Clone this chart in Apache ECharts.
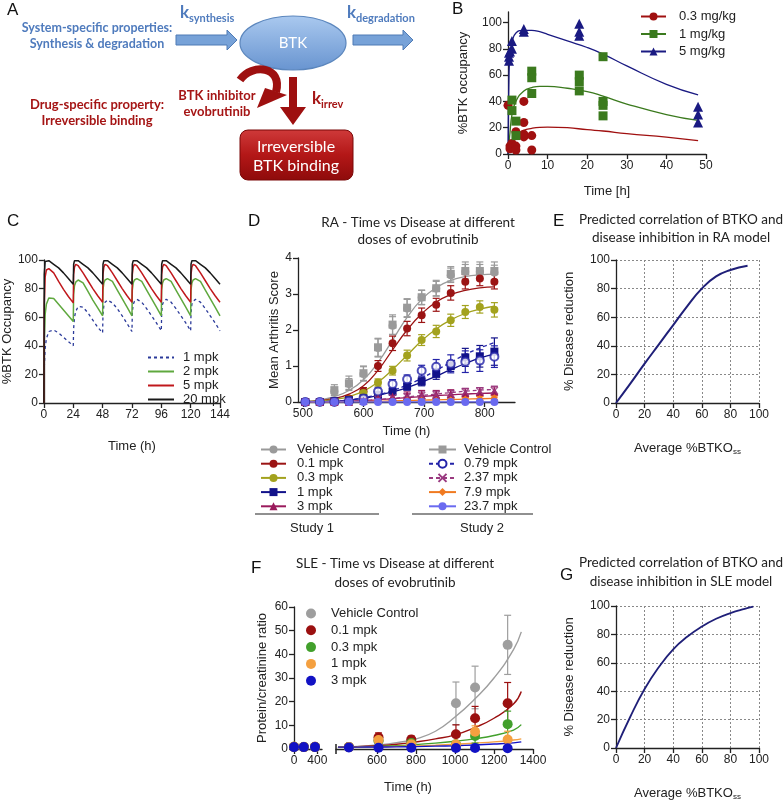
<!DOCTYPE html>
<html><head><meta charset="utf-8">
<script src="https://cdn.jsdelivr.net/npm/echarts@6/dist/echarts.min.js"></script>
<style>html,body{margin:0;padding:0;background:#fff}#c{width:784px;height:802px}</style>
</head><body><div id="c"></div>
<script>
// ---------------- Panel B data ----------------
const bFitTime = [0,0.25,0.5,1,2,4,6,8,10,15,20,24,30,40,48];
const bFit03 = [0,2,4,8,14,18,19.5,20.3,20.5,20,18.5,17.5,15.5,12.8,10.2];
const bFit1  = [0,8,16,30,40,48,50.5,51.5,51.5,50,47.5,44,38,30,25.5];
const bFit5  = [0,60,75,85,92,94,94,93,91,86,81,76,67,53,45];
const bPts03 = [[0,37],[0.5,6],[0.5,4],[1,8],[1,5],[2,17],[2,6],[2,3],[4,40],[4,24],[4,15],[4,13],[6,14],[6,3]];
const bPts1  = [[1,41],[1,33],[2,25],[2,14],[6,63],[6,58],[6,46],[18,60],[18,55],[18,48],[24,74],[24,40],[24,37],[24,29]];
const bPts5  = [[0.25,71],[0.25,74],[0.25,77],[0.5,78],[1,80],[1,86],[4,95],[4,93],[18,99],[18,93],[18,90],[48,36],[48,30],[48,24]];
const bXTicks = [0,10,20,30,40,50];
const bYTicks = [0,20,40,60,80,100];

// ---------------- Panel C data ----------------
const cTime = [0,0.3,1,2,4,8,12,16,20, 24,24.3,25,26,28,32,36,40,44, 48,48.3,49,50,52,56,60,64,68,
               72,72.3,73,74,76,80,84,88,92, 96,96.3,97,98,100,104,108,112,116, 120,120.3,121,122,124,128,132,136,140, 144];
const c1mpk  = [0,25,38,45,50,51,49,46,43, 40,52,60,64,67.5,67,63,58,53, 49,62,68,70.5,72,70,66,61,55.5,
                50,63,69,71,72.5,70.5,66,61,56, 50.5,63,69,71,72.5,70.5,66,61,56, 50.5,63,69,71,72.5,70.5,66,61,56, 50.5];
const c2mpk  = [0,45,62,69,73.5,73,69,65,61, 57,76,82,84.5,86,84,78,72,66.5, 61,79,84,86,87,85,79,73,67,
                61,79,84,86,87,85,79,73,67, 61,79,84,86,87,85,79,73,67, 61,79,84,86,87,85,79,73,67, 61];
const c5mpk  = [0,70,88,93,94,91,85,79.5,74.5, 70,90,95,97,96,91,85.5,80,75, 70.5,90,95,97,96,91,85.5,80,75,
                70.5,90,95,97,96,91,85.5,80,75, 70.5,90,95,97,96,91,85.5,80,75, 70.5,90,95,97,96,91,85.5,80,75, 70.5];
const c20mpk = [0,90,99,100,99.5,97,94.5,91,87, 83,97,99.5,100,99.5,97,94.5,91,87, 83,97,99.5,100,99.5,97,94.5,91,87,
                83,97,99.5,100,99.5,97,94.5,91,87, 83,97,99.5,100,99.5,97,94.5,91,87, 83,97,99.5,100,99.5,97,94.5,91,87, 83];

// ---------------- Panel D data ----------------
const dTime   = [504,528,552,576,600,624,648,672,696,720,744,768,792,816];
const dVeh1   = [0,0,0.3,0.5,0.78,1.5,2.12,2.6,2.9,3.15,3.52,3.62,3.62,3.6];
const dVeh1E  = [0,0,0.1,0.15,0.2,0.25,0.25,0.25,0.2,0.2,0.2,0.2,0.2,0.2];
const dVeh2   = [0,0,0.33,0.52,0.8,1.52,2.15,2.62,2.91,3.16,3.56,3.64,3.64,3.64];
const dVeh2E  = [0,0,0.15,0.2,0.2,0.25,0.27,0.25,0.2,0.22,0.2,0.25,0.25,0.25];
const d01     = [0,0,0.03,0.1,0.3,1.0,1.63,2.04,2.41,2.7,3.03,3.34,3.43,3.34];
const d01E    = [0,0,0.05,0.05,0.1,0.15,0.2,0.2,0.2,0.18,0.2,0.2,0.2,0.2];
const d03     = [0,0,0.02,0.07,0.25,0.54,0.87,1.29,1.72,1.96,2.27,2.5,2.64,2.56];
const d03E    = [0,0,0.03,0.05,0.1,0.1,0.12,0.15,0.15,0.17,0.17,0.18,0.17,0.2];
const d1      = [0,0,0.02,0.05,0.1,0.2,0.29,0.43,0.57,0.78,1.0,1.24,1.27,1.4];
const d1E     = [0,0,0.02,0.03,0.05,0.08,0.1,0.1,0.12,0.15,0.15,0.25,0.3,0.38];
const d3      = [0,0,0,0,0.03,0.1,0.15,0.18,0.2,0.2,0.22,0.25,0.28,0.3];
const d3E     = [0,0,0,0,0.03,0.05,0.08,0.1,0.12,0.12,0.12,0.12,0.12,0.12];
const d079    = [0,0,0,0.03,0.1,0.29,0.5,0.63,0.87,0.98,1.06,1.12,1.15,1.26];
const d079E   = [0,0,0,0.05,0.07,0.1,0.12,0.12,0.15,0.2,0.25,0.3,0.3,0.3];
const d237    = [0,0,0,0,0.02,0.08,0.12,0.15,0.18,0.2,0.22,0.28,0.3,0.32];
const d237E   = [0,0,0,0,0.03,0.05,0.07,0.08,0.1,0.1,0.1,0.1,0.1,0.12];
const d79     = [0,0,0,0,0,0.02,0.03,0.04,0.05,0.05,0.06,0.08,0.1,0.12];
const d79E    = [0,0,0,0,0,0.02,0.02,0.03,0.03,0.03,0.04,0.04,0.05,0.05];
const d237mpk = [0,0,0,0,0,0,0,0,0,0,0,0,0,0];
const dFitVeh = [0.02,0.06,0.15,0.32,0.62,1.1,1.72,2.35,2.85,3.18,3.38,3.48,3.53,3.55];
const dFit01  = [0.01,0.04,0.1,0.22,0.45,0.88,1.45,2.0,2.45,2.78,2.98,3.1,3.17,3.2];
const dFit03  = [0.01,0.03,0.07,0.15,0.3,0.55,0.9,1.3,1.7,2.03,2.28,2.46,2.58,2.66];
const dFit1   = [0,0.01,0.02,0.05,0.1,0.18,0.28,0.4,0.55,0.72,0.9,1.07,1.22,1.33];
const dFit3   = [0,0,0.01,0.02,0.04,0.06,0.09,0.12,0.15,0.18,0.2,0.22,0.24,0.25];
const dFit079 = [0,0.01,0.03,0.06,0.12,0.2,0.32,0.47,0.66,0.88,1.1,1.32,1.5,1.65];
const dFit237 = [0,0,0.01,0.02,0.04,0.07,0.1,0.14,0.18,0.22,0.26,0.3,0.33,0.35];
const dFit79  = [0,0,0,0.01,0.01,0.02,0.03,0.04,0.05,0.06,0.07,0.08,0.09,0.1];
const dFit237mpk = [0,0,0,0,0,0,0,0,0,0,0,0,0,0];
const dXTicks = [500,600,700,800];

// ---------------- Panel E / G data ----------------
const eX = [0,10,20,30,40,50,60,70,80,92];
const eY = [0,13.5,27.5,41,54.5,68,80,88.5,93,96];
const gX = [0,10,20,30,40,50,60,70,80,90,96];
const gY = [0,22,41.5,57,69.5,78.5,85.5,91,95,98,99.5];

// ---------------- Panel F data ----------------
const fT1 = [0,168,360];
const fT2 = [456,608,776,1005,1103,1270];
const fVeh1 = [1.0,0.9,0.9],  fVeh2 = [0.8,3.5,3.5,19.3,26,44],   fVehE = [0.3,1.5,1.5,9,9,12.5];
const f011  = [0.9,0.8,0.9],  f012  = [0.8,5.0,4.0,6.2,13,19.3],  f01E  = [0.3,1.8,1.5,4,5,8.8];
const f031  = [0.9,0.8,0.8],  f032  = [0.8,3.5,2.5,2.0,5.5,10.5], f03E  = [0.3,1,1,1,3,5.5];
const f11   = [0.9,0.8,0.8],  f12   = [0.8,3.8,2.0,2.0,7.3,4.0],  f1E   = [0.3,1,1,1,2.5,3.5];
const f31   = [0.8,0.8,0.8],  f32   = [0.6,0.5,0.5,0.4,0.4,0.3],  f3E   = [0.2,0.2,0.2,0.2,0.2,0.2];
const fFitT = [400,500,600,700,800,900,1000,1100,1200,1300,1340];
const fFitVeh = [0.8,1.1,1.7,2.7,4.3,7.5,13.5,21,30,42,49.5];
const fFit01  = [0.8,1.0,1.4,2.0,3.0,4.3,6,9,13,19,24.3];
const fFit03  = [0.8,0.9,1.1,1.4,1.9,2.5,3.3,4.3,5.7,8,10.3];
const fFit1   = [0.8,0.85,0.95,1.1,1.3,1.6,2.0,2.5,3.0,3.8,4.3];
const fFit3   = [0.8,0.8,0.85,0.9,1.0,1.2,1.4,1.7,2.1,2.6,3.0];
const fX1Ticks = [0,400];
const fX2Ticks = [600,800,1000,1200,1400];

// ---------------- helpers ----------------
const FONT = "'Liberation Sans', Arial, sans-serif";
const TFONT = "Lato, 'Open Sans', sans-serif";
const INK = '#222';
const zip = (xs, ys) => xs.map((x, i) => [x, ys[i]]);
const zip3 = (xs, ys, es) => xs.map((x, i) => [x, ys[i], es[i]]);

function axis(grid, min, max, opt) {
  opt = opt || {};
  const a = {
    type: 'value', gridIndex: grid, min: min, max: max,
    axisLine: {show: true, onZero: false, lineStyle: {color: INK, width: 1.3}},
    axisTick: {show: true, length: 5, lineStyle: {color: INK, width: 1.3}},
    axisLabel: {color: INK, fontSize: 12, fontFamily: FONT, margin: 6, formatter: v => String(v)},
    splitLine: {show: false},
    nameLocation: 'middle',
    nameTextStyle: {color: INK, fontSize: 13, fontFamily: FONT}
  };
  if (opt.interval) a.interval = opt.interval;
  if (opt.ticks) { a.axisLabel.customValues = opt.ticks; a.axisTick.customValues = opt.ticks; }
  if (opt.name) { a.name = opt.name; a.nameGap = opt.gap; }
  if (opt.rich) a.nameTextStyle.rich = opt.rich;
  if (opt.grid) a.splitLine = {show: true, lineStyle: {type: [2, 2], color: '#888', width: 1}};
  if (opt.hide) a.show = false;
  return a;
}
function fitLine(name, ai, data, color, symbol, dashed, extra) {
  return Object.assign({
    type: 'line', name: name, xAxisIndex: ai, yAxisIndex: ai, data: data, smooth: true,
    showSymbol: false, symbol: symbol, symbolSize: 7, silent: true,
    lineStyle: {color: color, width: 1.3, type: dashed ? [4, 3] : 'solid'},
    itemStyle: {color: color}, z: 2
  }, extra || {});
}
function pts(name, ai, data, color, symbol, size, extra) {
  return Object.assign({
    type: 'scatter', name: name, xAxisIndex: ai, yAxisIndex: ai, data: data,
    symbol: symbol, symbolSize: size, silent: true, itemStyle: {color: color, opacity: 1}, z: 4
  }, extra || {});
}
function errRender(params, api) {
  const x = api.value(0), y = api.value(1), e = api.value(2);
  if (!e) return null;
  const lo = api.coord([x, Math.max(0, y - e)]);
  const hi = api.coord([x, y + e]);
  const w = 3.5;
  const st = {stroke: api.visual('color'), lineWidth: 1.2, fill: null};
  return {type: 'group', children: [
    {type: 'line', shape: {x1: hi[0], y1: hi[1], x2: lo[0], y2: lo[1]}, style: st},
    {type: 'line', shape: {x1: hi[0] - w, y1: hi[1], x2: hi[0] + w, y2: hi[1]}, style: st},
    {type: 'line', shape: {x1: lo[0] - w, y1: lo[1], x2: lo[0] + w, y2: lo[1]}, style: st}
  ]};
}
function errs(ai, data, color) {
  return {type: 'custom', xAxisIndex: ai, yAxisIndex: ai, data: data, renderItem: errRender,
    itemStyle: {color: color}, silent: true, z: 3, encode: {x: 0, y: 1}};
}
function txt(x, y, s, size, color, opt) {
  opt = opt || {};
  return {type: 'text', x: x, y: y, silent: true, z: 10, style: {
    text: s, fontSize: size, fontFamily: opt.font || FONT, fontWeight: opt.weight || 'normal',
    fill: color, align: opt.align || 'left', verticalAlign: 'middle', lineHeight: opt.lh
  }};
}

// colors
const B_RED = '#a01010', B_GRN = '#3b7a1e', B_BLU = '#1a1a82';
const C_BLU = '#2b3a9a', C_GRN = '#5fa83e', C_RED = '#c0181c', C_BLK = '#1a1a1a';
const D_GRY = '#9a9a9a', D_RED = '#9b1414', D_OLV = '#a3a21e', D_NAV = '#12128a', D_MAG = '#9a1a5c';
const D_OC = '#2323a8', D_PUR = '#9a3a80', D_ORG = '#f07a20', D_PER = '#6a6af0';
const F_GRY = '#9e9e9e', F_RED = '#9b1010', F_GRN = '#42a02c', F_ORG = '#f4a040', F_BLU = '#1212c4';
const CURVE = '#1f1f78';
const A_BLUE = '#4f7bbd', A_RED = '#a51515';

const crossSym = 'path://M0,0L10,10M10,0L0,10';
const subRich = {a: {fontSize: 13, fontFamily: FONT, color: INK}, s: {fontSize: 8, fontFamily: FONT, color: INK, padding: [7, 0, 0, 0]}};

const option = {
  animation: false,
  backgroundColor: '#fff',
  grid: [
    {left: 508, top: 12, width: 198, height: 142},   // B
    {left: 43, top: 260, width: 177, height: 143},   // C
    {left: 298, top: 258, width: 217, height: 144},  // D
    {left: 616, top: 260, width: 143, height: 143},  // E
    {left: 294, top: 607, width: 28, height: 142},   // F1
    {left: 336, top: 607, width: 197, height: 142},  // F2
    {left: 616, top: 606, width: 143, height: 143}   // G
  ],
  xAxis: [
    axis(0, 0, 50, {ticks: bXTicks, name: 'Time [h]', gap: 31}),
    axis(1, 0, 144, {interval: 24, name: 'Time (h)', gap: 37}),
    axis(2, 492, 850, {ticks: dXTicks, name: 'Time (h)', gap: 23}),
    axis(3, 0, 100, {interval: 20, grid: true, name: '{a|Average %BTKO}{s|ss}', gap: 38, rich: subRich}),
    axis(4, 0, 480, {ticks: fX1Ticks}),
    axis(5, 390, 1400, {ticks: fX2Ticks}),
    axis(6, 0, 100, {interval: 20, grid: true, name: '{a|Average %BTKO}{s|ss}', gap: 38, rich: subRich})
  ],
  yAxis: [
    axis(0, 0, 108, {ticks: bYTicks, name: '%BTK occupancy', gap: 38}),
    axis(1, 0, 100, {interval: 20, name: '%BTK Occupancy', gap: 28}),
    axis(2, 0, 4, {interval: 1, name: 'Mean Arthritis Score', gap: 17}),
    axis(3, 0, 100, {interval: 20, grid: true, name: '% Disease reduction', gap: 40}),
    axis(4, 0, 60, {interval: 10, name: 'Protein/creatinine ratio', gap: 25}),
    axis(5, 0, 60, {interval: 10, hide: true}),
    axis(6, 0, 100, {interval: 20, grid: true, name: '% Disease reduction', gap: 40})
  ],
  legend: [
    {left: 635, top: 5, orient: 'vertical', itemWidth: 25, itemHeight: 10, itemGap: 4.5, selectedMode: false,
     data: ['0.3 mg/kg', '1 mg/kg', '5 mg/kg'],
     textStyle: {fontSize: 13, fontFamily: FONT, color: INK, lineHeight: 13, padding: [0, 0, 0, 8]}},
    {left: 142, top: 346, orient: 'vertical', itemWidth: 26, itemHeight: 10, itemGap: 1, selectedMode: false,
     itemStyle: {opacity: 0},
     data: ['1 mpk', '2 mpk', '5 mpk', '20 mpk'],
     textStyle: {fontSize: 13, fontFamily: FONT, color: INK, lineHeight: 13, padding: [0, 0, 0, 4]}},
    {left: 255, top: 438, orient: 'vertical', itemWidth: 25, itemHeight: 10, itemGap: 1.2, selectedMode: false,
     data: ['Vehicle Control', '0.1 mpk', '0.3 mpk', '1 mpk ', '3 mpk '],
     textStyle: {fontSize: 13, fontFamily: FONT, color: INK, lineHeight: 13, padding: [0, 0, 0, 6]}},
    {left: 423, top: 438, orient: 'vertical', itemWidth: 27, itemHeight: 10, itemGap: 1.2, selectedMode: false,
     data: ['Vehicle Control ', '0.79 mpk', '2.37 mpk', '7.9 mpk', '23.7 mpk'],
     textStyle: {fontSize: 13, fontFamily: FONT, color: INK, lineHeight: 13, padding: [0, 0, 0, 3]}},
    {left: 301, top: 602, orient: 'vertical', itemWidth: 10, itemHeight: 10, itemGap: 3.8, selectedMode: false,
     data: ['Vehicle Control  ', '0.1 mpk  ', '0.3 mpk  ', '1 mpk  ', '3 mpk  '],
     textStyle: {fontSize: 13, fontFamily: FONT, color: INK, lineHeight: 13, padding: [0, 0, 0, 10]}}
  ],
  series: [
    // ---- B ----
    fitLine('0.3 mg/kg', 0, zip(bFitTime, bFit03), B_RED, 'circle'),
    fitLine('1 mg/kg', 0, zip(bFitTime, bFit1), B_GRN, 'rect'),
    fitLine('5 mg/kg', 0, zip(bFitTime, bFit5), B_BLU, 'triangle'),
    pts('b03', 0, bPts03, B_RED, 'circle', 9),
    pts('b1', 0, bPts1, B_GRN, 'rect', 9),
    pts('b5', 0, bPts5, B_BLU, 'triangle', 10),
    // ---- C ----
    fitLine('1 mpk', 1, zip(cTime, c1mpk), C_BLU, 'circle', true, {smooth: false, lineStyle: {color: C_BLU, width: 1.3, type: [3, 3]}}),
    fitLine('2 mpk', 1, zip(cTime, c2mpk), C_GRN, 'circle', false, {smooth: false, lineStyle: {color: C_GRN, width: 1.5}}),
    fitLine('5 mpk', 1, zip(cTime, c5mpk), C_RED, 'circle', false, {smooth: false, lineStyle: {color: C_RED, width: 1.5}}),
    fitLine('20 mpk', 1, zip(cTime, c20mpk), C_BLK, 'circle', false, {smooth: false, lineStyle: {color: C_BLK, width: 1.5}}),
    // ---- D fits (legend) ----
    fitLine('Vehicle Control', 2, [], D_GRY, 'circle'),
    fitLine('Vehicle Control ', 2, zip(dTime, dFitVeh), D_GRY, 'rect'),
    fitLine('0.1 mpk', 2, zip(dTime, dFit01), D_RED, 'circle'),
    fitLine('0.3 mpk', 2, zip(dTime, dFit03), D_OLV, 'circle'),
    fitLine('1 mpk ', 2, zip(dTime, dFit1), D_NAV, 'rect'),
    fitLine('3 mpk ', 2, zip(dTime, dFit3), D_MAG, 'triangle'),
    fitLine('0.79 mpk', 2, zip(dTime, dFit079), D_OC, 'emptyCircle', true),
    fitLine('2.37 mpk', 2, zip(dTime, dFit237), D_PUR, crossSym, true, {itemStyle: {color: D_PUR, borderColor: D_PUR, borderWidth: 1.5}}),
    fitLine('7.9 mpk', 2, zip(dTime, dFit79), D_ORG, 'diamond'),
    fitLine('23.7 mpk', 2, zip(dTime, dFit237mpk), D_PER, 'circle'),
    // ---- D error bars ----
    errs(2, zip3(dTime, dVeh1, dVeh1E), D_GRY),
    errs(2, zip3(dTime, dVeh2, dVeh2E), D_GRY),
    errs(2, zip3(dTime, d01, d01E), D_RED),
    errs(2, zip3(dTime, d03, d03E), D_OLV),
    errs(2, zip3(dTime, d1, d1E), D_NAV),
    errs(2, zip3(dTime, d079, d079E), D_OC),
    errs(2, zip3(dTime, d3, d3E), D_MAG),
    errs(2, zip3(dTime, d237, d237E), D_PUR),
    errs(2, zip3(dTime, d79, d79E), D_ORG),
    // ---- D points ----
    pts('dveh1', 2, zip(dTime, dVeh1), D_GRY, 'circle', 8),
    pts('dveh2', 2, zip(dTime, dVeh2), D_GRY, 'rect', 8),
    pts('d01', 2, zip(dTime, d01), D_RED, 'circle', 8),
    pts('d03', 2, zip(dTime, d03), D_OLV, 'circle', 8),
    pts('d1', 2, zip(dTime, d1), D_NAV, 'rect', 8),
    pts('d079', 2, zip(dTime, d079), D_OC, 'emptyCircle', 8, {itemStyle: {color: D_OC, borderWidth: 1.5}}),
    pts('d3', 2, zip(dTime, d3), D_MAG, 'triangle', 8),
    pts('d237', 2, zip(dTime, d237), D_PUR, crossSym, 7, {itemStyle: {color: D_PUR, borderColor: D_PUR, borderWidth: 1.5}}),
    pts('d79', 2, zip(dTime, d79), D_ORG, 'diamond', 7),
    pts('d237mpk', 2, zip(dTime, d237mpk), D_PER, 'circle', 8),
    // ---- E / G ----
    fitLine('eCurve', 3, zip(eX, eY), CURVE, 'none', false, {lineStyle: {color: CURVE, width: 2}}),
    fitLine('gCurve', 6, zip(gX, gY), CURVE, 'none', false, {lineStyle: {color: CURVE, width: 1.8}}),
    // ---- F fits ----
    fitLine('fv', 5, zip(fFitT, fFitVeh), F_GRY, 'none', false, {lineStyle: {color: F_GRY, width: 1.4}}),
    fitLine('f01', 5, zip(fFitT, fFit01), F_RED, 'none', false, {lineStyle: {color: F_RED, width: 1.4}}),
    fitLine('f03', 5, zip(fFitT, fFit03), F_GRN, 'none', false, {lineStyle: {color: F_GRN, width: 1.4}}),
    fitLine('f1', 5, zip(fFitT, fFit1), F_ORG, 'none', false, {lineStyle: {color: F_ORG, width: 1.4}}),
    fitLine('f3', 5, zip(fFitT, fFit3), F_BLU, 'none', false, {lineStyle: {color: F_BLU, width: 1.4}}),
    // ---- F error bars ----
    errs(5, zip3(fT2, fVeh2, fVehE), F_GRY),
    errs(5, zip3(fT2, f012, f01E), F_RED),
    errs(5, zip3(fT2, f032, f03E), F_GRN),
    errs(5, zip3(fT2, f12, f1E), F_ORG),
    errs(5, zip3(fT2, f32, f3E), F_BLU),
    // ---- F points (legend) ----
    pts('Vehicle Control  ', 5, zip(fT2, fVeh2), F_GRY, 'circle', 10),
    pts('0.1 mpk  ', 5, zip(fT2, f012), F_RED, 'circle', 10),
    pts('0.3 mpk  ', 5, zip(fT2, f032), F_GRN, 'circle', 10),
    pts('1 mpk  ', 5, zip(fT2, f12), F_ORG, 'circle', 10),
    pts('3 mpk  ', 5, zip(fT2, f32), F_BLU, 'circle', 10),
    pts('fv1', 4, zip(fT1, fVeh1), F_GRY, 'circle', 10),
    pts('f011', 4, zip(fT1, f011), F_RED, 'circle', 10),
    pts('f031', 4, zip(fT1, f031), F_GRN, 'circle', 10),
    pts('f11', 4, zip(fT1, f11), F_ORG, 'circle', 10),
    pts('f31', 4, zip(fT1, f31), F_BLU, 'circle', 10)
  ],
  graphic: [
    // panel letters
    txt(7, 10, 'A', 17, '#111'), txt(452, 9, 'B', 17, '#111'), txt(7, 221, 'C', 17, '#111'),
    txt(248, 221, 'D', 17, '#111'), txt(553, 221, 'E', 17, '#111'), txt(251, 568, 'F', 17, '#111'),
    txt(560, 575, 'G', 17, '#111'),
    // panel A
    txt(97, 28, 'System-specific properties:', 12.5, A_BLUE, {align: 'center', weight: 'bold', font: TFONT}),
    txt(97, 44, 'Synthesis & degradation', 12.5, A_BLUE, {align: 'center', weight: 'bold', font: TFONT}),
    txt(180, 13, 'k', 17, A_BLUE, {weight: 'bold', font: TFONT}),
    txt(189, 18, 'synthesis', 11, A_BLUE, {weight: 'bold', font: TFONT}),
    txt(347, 13, 'k', 17, A_BLUE, {weight: 'bold', font: TFONT}),
    txt(356, 18, 'degradation', 11, A_BLUE, {weight: 'bold', font: TFONT}),
    {type: 'polygon', shape: {points: [[176,35],[227,35],[227,30],[237,40],[227,50],[227,45],[176,45]]},
     style: {fill: '#77a2d8', stroke: '#4f7bb5', lineWidth: 1}},
    {type: 'polygon', shape: {points: [[353,35],[403,35],[403,30],[413,40],[403,50],[403,45],[353,45]]},
     style: {fill: '#77a2d8', stroke: '#4f7bb5', lineWidth: 1}},
    {type: 'ellipse', shape: {cx: 293, cy: 43, rx: 53, ry: 27},
     style: {fill: {type: 'linear', x: 0, y: 0, x2: 0, y2: 1, colorStops: [{offset: 0, color: '#aac9ef'}, {offset: 1, color: '#6894d0'}]},
             stroke: '#5b86bd', lineWidth: 1.2}},
    txt(293, 43, 'BTK', 15, '#fff', {align: 'center', font: TFONT}),
    // curved red arrow
    {type: 'bezierCurve', shape: {x1: 240, y1: 80, cpx1: 252, cpy1: 63, cpx2: 283, cpy2: 66, x2: 276, y2: 92},
     style: {stroke: '#9e1010', lineWidth: 8, fill: null}},
    {type: 'polygon', shape: {points: [[265,88],[287,95],[257,108]]}, style: {fill: '#9e1010'}},
    // straight down arrow
    {type: 'polygon', shape: {points: [[289,77],[297,77],[297,107],[306,107],[293,125],[280,107],[289,107]]},
     style: {fill: '#9e1010'}},
    txt(312, 99, 'k', 17, A_RED, {weight: 'bold', font: TFONT}),
    txt(321, 104, 'irrev', 11, A_RED, {weight: 'bold', font: TFONT}),
    txt(217, 96, 'BTK inhibitor', 13, A_RED, {align: 'center', weight: 'bold', font: TFONT}),
    txt(217, 112, 'evobrutinib', 13, A_RED, {align: 'center', weight: 'bold', font: TFONT}),
    txt(97, 105, 'Drug-specific property:', 13, A_RED, {align: 'center', weight: 'bold', font: TFONT}),
    txt(97, 121, 'Irreversible binding', 13, A_RED, {align: 'center', weight: 'bold', font: TFONT}),
    {type: 'rect', shape: {x: 240, y: 130, width: 113, height: 50, r: 8},
     style: {fill: {type: 'linear', x: 0, y: 0, x2: 0, y2: 1, colorStops: [{offset: 0, color: '#cf3a3a'}, {offset: 0.5, color: '#b31717'}, {offset: 1, color: '#8e0b0b'}]},
             stroke: '#7a0808', lineWidth: 1}},
    txt(296, 147, 'Irreversible', 16, '#fff', {align: 'center', font: TFONT}),
    txt(296, 166, 'BTK binding', 16, '#fff', {align: 'center', font: TFONT}),
    // titles
    txt(418, 223, 'RA - Time vs Disease at different', 13.5, INK, {align: 'center', font: TFONT}),
    txt(418, 240, 'doses of evobrutinib', 13.5, INK, {align: 'center', font: TFONT}),
    txt(681, 220, 'Predicted correlation of BTKO and', 13.5, INK, {align: 'center', font: TFONT}),
    txt(681, 238, 'disease inhibition in RA model', 13.5, INK, {align: 'center', font: TFONT}),
    txt(395, 564, 'SLE - Time vs Disease at different', 13.5, INK, {align: 'center', font: TFONT}),
    txt(395, 583, 'doses of evobrutinib', 13.5, INK, {align: 'center', font: TFONT}),
    txt(681, 563, 'Predicted correlation of BTKO and', 13.5, INK, {align: 'center', font: TFONT}),
    txt(681, 582, 'disease inhibition in SLE model', 13.5, INK, {align: 'center', font: TFONT}),
    // D study separators
    {type: 'line', shape: {x1: 255, y1: 514, x2: 379, y2: 514}, style: {stroke: INK, lineWidth: 1.2}},
    {type: 'line', shape: {x1: 412, y1: 514, x2: 533, y2: 514}, style: {stroke: INK, lineWidth: 1.2}},
    txt(312, 528, 'Study 1', 13, INK, {align: 'center'}),
    txt(482, 528, 'Study 2', 13, INK, {align: 'center'}),
    // F axis break and title
    {type: 'line', shape: {x1: 336, y1: 744, x2: 336, y2: 754}, style: {stroke: INK, lineWidth: 1.5}},
    txt(408, 787, 'Time (h)', 13, INK, {align: 'center'})
  ]
};
const chart = echarts.init(document.getElementById('c'), null, {renderer: 'canvas'});
chart.setOption(option);
</script></body></html>
